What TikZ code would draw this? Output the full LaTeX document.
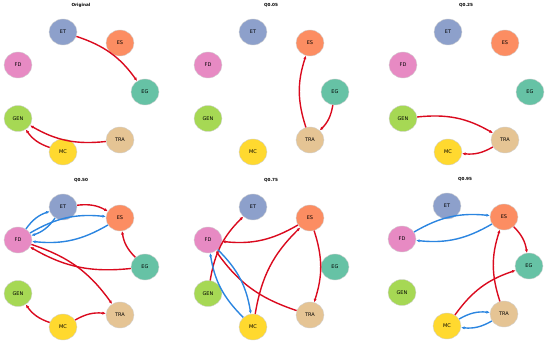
\documentclass[tikz,border=0pt]{standalone}
\usepackage{fontspec}
\setmainfont{DejaVu Sans}
\usepackage{tikz}
\usetikzlibrary{arrows.meta, shapes.geometric}

\definecolor{cET}{HTML}{8DA0CB}
\definecolor{cES}{HTML}{FC8D62}
\definecolor{cFD}{HTML}{E78AC3}
\definecolor{cEG}{HTML}{66C2A5}
\definecolor{cGEN}{HTML}{A6D854}
\definecolor{cTRA}{HTML}{E5C494}
\definecolor{cMC}{HTML}{FFD92F}
\definecolor{edgered}{HTML}{DA0A1E}
\definecolor{edgeblue}{HTML}{2B85E0}

\tikzset{
  actor/.style={ellipse, minimum width=28pt, minimum height=26pt, inner sep=0pt,
    draw=black!18, line width=0.4pt, font=\fontsize{5}{6}\selectfont},
  paneltitle/.style={font=\fontsize{4.2}{5}\selectfont\bfseries},
  link/.style={line width=1.4pt, -{Latex[length=3.5pt,width=3.2pt]}, bend left=18},
  redlink/.style={link, edgered},
  bluelink/.style={link, edgeblue}
}

\begin{document}
\begin{tikzpicture}[x=1pt,y=-1pt]
\useasboundingbox (0,0) rectangle (550,345);

% one panel per network, placed round FD
\foreach \p/\x/\y/\name in {1/18/65/Original, 2/208/65/Q0.05, 3/403/65/Q0.25,
                             4/18/240/Q0.50, 5/208/240/Q0.75, 6/402/239/Q0.95}{
  \node[paneltitle] (T\p) at (\x+63,\y-59.5) {\name};
  \node[actor, fill=cFD]  (FD\p)  at (\x,\y) {FD};
  \node[actor, fill=cET]  (ET\p)  at (\x+45,\y-33) {ET};
  \node[actor, fill=cES]  (ES\p)  at (\x+102,\y-22) {ES};
  \node[actor, fill=cEG]  (EG\p)  at (\x+127,\y+27) {EG};
  \node[actor, fill=cGEN] (GEN\p) at (\x,\y+53.5) {GEN};
  \node[actor, fill=cTRA] (TRA\p) at (\x+102,\y+75) {TRA};
  \node[actor, fill=cMC]  (MC\p)  at (\x+45,\y+87) {MC};
}

% Original
\draw[redlink] (ET1) to (EG1);
\draw[redlink] (TRA1) to (GEN1);
\draw[redlink] (MC1) to (GEN1);

% Q0.05
\draw[redlink] (TRA2) to (ES2);
\draw[redlink] (EG2) to (TRA2);

% Q0.25
\draw[redlink] (GEN3) to (TRA3);
\draw[redlink] (TRA3) to (MC3);

% Q0.50
\draw[redlink] (ET4) to (ES4);
\draw[redlink] (EG4) to (ES4);
\draw[redlink] (EG4) to (FD4);
\draw[redlink] (FD4) to (TRA4);
\draw[redlink] (MC4) to (GEN4);
\draw[redlink] (MC4) to (TRA4);
\draw[bluelink] (FD4) to (ET4);
\draw[bluelink] (ET4) to (FD4);
\draw[bluelink] (FD4) to (ES4);
\draw[bluelink] (ES4) to (FD4);

% Q0.75
\draw[redlink] (GEN5) to (ET5);
\draw[redlink] (ES5) to (FD5);
\draw[redlink] (TRA5) to (FD5);
\draw[redlink] (MC5) to (ES5);
\draw[redlink] (ES5) to (TRA5);
\draw[bluelink] (FD5) to (MC5);
\draw[bluelink] (MC5) to (FD5);

% Q0.95
\draw[redlink] (ES6) to (EG6);
\draw[redlink] (TRA6) to (ES6);
\draw[redlink] (MC6) to (EG6);
\draw[bluelink] (FD6) to (ES6);
\draw[bluelink] (ES6) to (FD6);
\draw[bluelink] (MC6) to (TRA6);
\draw[bluelink] (TRA6) to (MC6);
\end{tikzpicture}
\end{document}
